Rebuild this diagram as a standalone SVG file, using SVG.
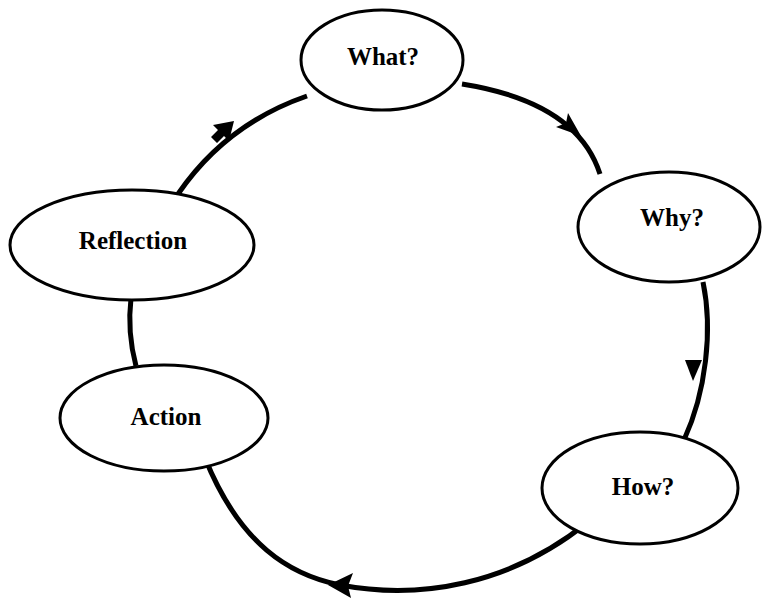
<svg xmlns="http://www.w3.org/2000/svg" width="763" height="598" viewBox="0 0 763 598">
<style>
.node ellipse{fill:#fff;stroke:#000;stroke-width:3}
.node text{font-family:"Liberation Serif","Times New Roman",serif;font-weight:bold;font-size:25px;fill:#000;text-anchor:middle}
.conn path.line{fill:none;stroke:#000;stroke-width:5}
.conn .head{fill:#000;stroke:none}
</style>
<rect width="763" height="598" fill="#fff"/>
<g id="connectors" class="conn">
<path class="line" d="M178,194 Q226,124 307,96"/>
<path class="line" d="M462,84 C525,94 582,118 600,174"/>
<path class="line" d="M703,282 C713,330 706,392 684,440"/>
<path class="line" d="M588,522 C510,585 420,600 340,585 C290,575 240,545 205,458"/>
<path class="line" d="M136,366 Q127,332 131,298"/>
<polygon class="head" points="234,121 229,141 224,136 217,143 211,137 218,130 213,125"/>
<polygon class="head" points="581,136 556,127 566,123 568,113"/>
<polygon class="head" points="685,360 702,360 693,381"/>
<polygon class="head" points="328,585 353,573 348,586 351,598"/>
</g>
<g id="what" class="node"><ellipse cx="382" cy="60" rx="81" ry="50"/><text x="383" y="65">What?</text></g>
<g id="why" class="node"><ellipse cx="669" cy="227" rx="91" ry="55"/><text x="672" y="226">Why?</text></g>
<g id="reflection" class="node"><ellipse cx="132" cy="245" rx="122" ry="55"/><text x="133" y="249">Reflection</text></g>
<g id="action" class="node"><ellipse cx="164" cy="418" rx="104" ry="53"/><text x="166" y="425">Action</text></g>
<g id="how" class="node"><ellipse cx="640" cy="488" rx="98" ry="56"/><text x="643" y="495">How?</text></g>
</svg>
